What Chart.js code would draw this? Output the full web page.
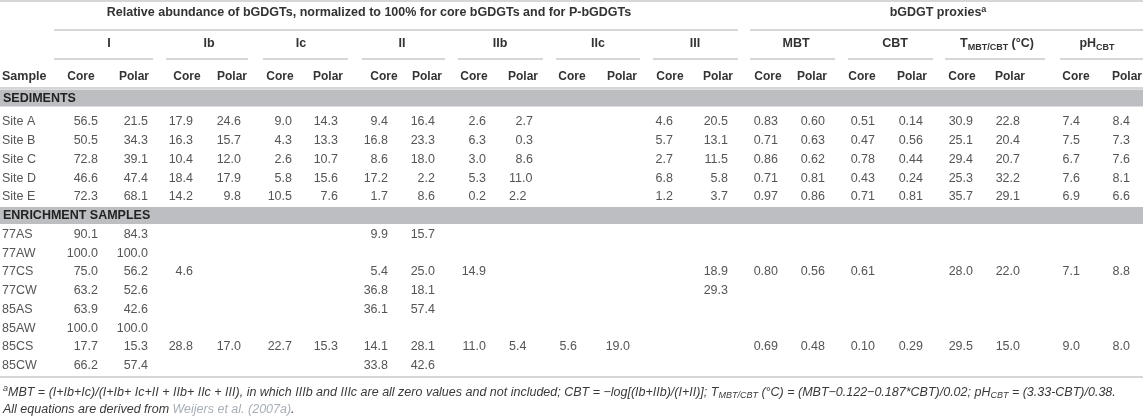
<!DOCTYPE html>
<html>
<head>
<meta charset="utf-8">
<script src="https://cdn.jsdelivr.net/npm/chart.js@4"></script>
<style>
  html, body { margin: 0; padding: 0; background: #fff; }
  #wrap { width: 1143px; height: 419px; position: relative; }
</style>
</head>
<body>
<div id="wrap"><canvas id="tableChart"></canvas></div>
<script>
// ---- table data ----
var sedimentSamples = ['Site A', 'Site B', 'Site C', 'Site D', 'Site E'];
var enrichmentSamples = ['77AS', '77AW', '77CS', '77CW', '85AS', '85AW', '85CS', '85CW'];

var groupLabels = ['I', 'Ib', 'Ic', 'II', 'IIb', 'IIc', 'III', 'MBT', 'CBT', 'TMBT', 'pH'];
var subLabels = ['Core', 'Polar'];

// null = empty cell; order = sediments then enrichment samples
var iCore    = [56.5, 50.5, 72.8, 46.6, 72.3, 90.1, 100.0, 75.0, 63.2, 63.9, 100.0, 17.7, 66.2];
var iPolar   = [21.5, 34.3, 39.1, 47.4, 68.1, 84.3, 100.0, 56.2, 52.6, 42.6, 100.0, 15.3, 57.4];
var ibCore   = [17.9, 16.3, 10.4, 18.4, 14.2, null, null, 4.6, null, null, null, 28.8, null];
var ibPolar  = [24.6, 15.7, 12.0, 17.9, 9.8, null, null, null, null, null, null, 17.0, null];
var icCore   = [9.0, 4.3, 2.6, 5.8, 10.5, null, null, null, null, null, null, 22.7, null];
var icPolar  = [14.3, 13.3, 10.7, 15.6, 7.6, null, null, null, null, null, null, 15.3, null];
var iiCore   = [9.4, 16.8, 8.6, 17.2, 1.7, 9.9, null, 5.4, 36.8, 36.1, null, 14.1, 33.8];
var iiPolar  = [16.4, 23.3, 18.0, 2.2, 8.6, 15.7, null, 25.0, 18.1, 57.4, null, 28.1, 42.6];
var iibCore  = [2.6, 6.3, 3.0, 5.3, 0.2, null, null, 14.9, null, null, null, 11.0, null];
var iibPolar = [2.7, 0.3, 8.6, 11.0, 2.2, null, null, null, null, null, null, 5.4, null];
var iicCore  = [null, null, null, null, null, null, null, null, null, null, null, 5.6, null];
var iicPolar = [null, null, null, null, null, null, null, null, null, null, null, 19.0, null];
var iiiCore  = [4.6, 5.7, 2.7, 6.8, 1.2, null, null, null, null, null, null, null, null];
var iiiPolar = [20.5, 13.1, 11.5, 5.8, 3.7, null, null, 18.9, 29.3, null, null, null, null];
var mbtCore  = [0.83, 0.71, 0.86, 0.71, 0.97, null, null, 0.80, null, null, null, 0.69, null];
var mbtPolar = [0.60, 0.63, 0.62, 0.81, 0.86, null, null, 0.56, null, null, null, 0.48, null];
var cbtCore  = [0.51, 0.47, 0.78, 0.43, 0.71, null, null, 0.61, null, null, null, 0.10, null];
var cbtPolar = [0.14, 0.56, 0.44, 0.24, 0.81, null, null, null, null, null, null, 0.29, null];
var tCore    = [30.9, 25.1, 29.4, 25.3, 35.7, null, null, 28.0, null, null, null, 29.5, null];
var tPolar   = [22.8, 20.4, 20.7, 32.2, 29.1, null, null, 22.0, null, null, null, 15.0, null];
var phCore   = [7.4, 7.5, 6.7, 7.6, 6.9, null, null, 7.1, null, null, null, 9.0, null];
var phPolar  = [8.4, 7.3, 7.6, 8.1, 6.6, null, null, 8.8, null, null, null, 8.0, null];

var valueColumns = [iCore, iPolar, ibCore, ibPolar, icCore, icPolar, iiCore, iiPolar,
  iibCore, iibPolar, iicCore, iicPolar, iiiCore, iiiPolar, mbtCore, mbtPolar,
  cbtCore, cbtPolar, tCore, tPolar, phCore, phPolar];
var decimals = [1, 1, 1, 1, 1, 1, 1, 1, 1, 1, 1, 1, 1, 1, 2, 2, 2, 2, 1, 1, 1, 1];

// ---- layout (table units = pixels of the reference) ----
var colRight = [98, 148, 193, 241, 292, 338, 388, 435, 486, 533, 577, 630, 673, 728,
  778, 825, 875, 923, 973, 1020, 1080, 1130];
var subCenter = [81, 134, 187, 232, 280, 328, 384, 427, 474, 523, 572, 622, 670, 718,
  768, 812, 862, 912, 962, 1010, 1076, 1127];
var groupCenter = [109, 209, 301, 402, 500, 598, 695, 796, 895, 997, 1097];
var groupLines = [[54, 153], [166, 248], [263, 348], [362, 445], [458, 543], [556, 640],
  [653, 738], [750, 835], [848, 933], [945, 1045], [1060, 1143]];
var leftAligned = { '9:3': 509, '9:4': 509, '9:11': 509 };
var sedRowY0 = 122, enrRowY0 = 234.5, rowStep = 18.75;

var FONT = '"Liberation Sans", Arial, Helvetica, sans-serif';
var TEXT = '#555', HEAD = '#333', RULE = '#c9c9c9', BAND = '#bdbec1';

function rowY(r) {
  return r < sedimentSamples.length ? sedRowY0 + r * rowStep
    : enrRowY0 + (r - sedimentSamples.length) * rowStep;
}

// cell points: one point per filled cell, placed through the chart scales
var cells = [];
var allSamples = sedimentSamples.concat(enrichmentSamples);
allSamples.forEach(function (name, r) {
  cells.push({ x: 2, y: rowY(r), text: name, align: 'left' });
});
valueColumns.forEach(function (col, c) {
  col.forEach(function (v, r) {
    if (v === null) return;
    var left = leftAligned[c + ':' + r];
    cells.push({
      x: left !== undefined ? left : colRight[c],
      y: rowY(r),
      text: v.toFixed(decimals[c]),
      align: left !== undefined ? 'left' : 'right'
    });
  });
});

// draws text made of parts (sub / sup / colour)
function drawRich(ctx, parts, x, y, align, size, weight, style, color) {
  function font(p) {
    var s = (p.sub || p.sup) ? Math.round(size * 0.72) : size;
    return (style || '') + ' ' + (weight || 'normal') + ' ' + s + 'px ' + FONT;
  }
  var w = 0;
  parts.forEach(function (p) { ctx.font = font(p); w += ctx.measureText(p.t).width; });
  var cx = align === 'center' ? x - w / 2 : (align === 'right' ? x - w : x);
  ctx.textAlign = 'left';
  ctx.textBaseline = 'middle';
  parts.forEach(function (p) {
    ctx.font = font(p);
    ctx.fillStyle = p.color || color;
    var dy = p.sub ? size * 0.25 : (p.sup ? -size * 0.3 : 0);
    ctx.fillText(p.t, cx, y + dy);
    cx += ctx.measureText(p.t).width;
  });
}

var tablePlugin = {
  id: 'tablePlugin',
  beforeDatasetsDraw: function (chart) {
    var ctx = chart.ctx, xs = chart.scales.x, ys = chart.scales.y;
    var X = function (v) { return xs.getPixelForValue(v); };
    var Y = function (v) { return ys.getPixelForValue(v); };
    ctx.save();
    // grey section bands
    ctx.fillStyle = BAND;
    ctx.fillRect(X(0), Y(89.5), X(1143) - X(0), Y(106.5) - Y(89.5));
    ctx.fillRect(X(0), Y(207), X(1143) - X(0), Y(224) - Y(207));
    // rules
    ctx.strokeStyle = RULE;
    ctx.lineWidth = 1.5;
    var hline = function (x0, x1, y) {
      ctx.beginPath(); ctx.moveTo(X(x0), Y(y)); ctx.lineTo(X(x1), Y(y)); ctx.stroke();
    };
    hline(0, 1143, 1);
    hline(54, 738, 30);
    hline(750, 1143, 30);
    groupLines.forEach(function (g) { hline(g[0], g[1], 59); });
    hline(0, 1143, 88);
    hline(0, 1143, 377);

    // header texts
    drawRich(ctx, [{ t: 'Relative abundance of bGDGTs, normalized to 100% for core bGDGTs and for P-bGDGTs' }],
      X(369), Y(13), 'center', 12.5, 'bold', '', HEAD);
    drawRich(ctx, [{ t: 'bGDGT proxies' }, { t: 'a', sup: true }], X(938), Y(13), 'center', 12.5, 'bold', '', HEAD);
    groupLabels.forEach(function (g, i) {
      var parts = [{ t: g }];
      if (g === 'TMBT') parts = [{ t: 'T' }, { t: 'MBT/CBT', sub: true }, { t: ' (°C)' }];
      if (g === 'pH') parts = [{ t: 'pH' }, { t: 'CBT', sub: true }];
      drawRich(ctx, parts, X(groupCenter[i]), Y(44), 'center', 12.5, 'bold', '', HEAD);
    });
    drawRich(ctx, [{ t: 'Sample' }], X(2), Y(77), 'left', 12.5, 'bold', '', HEAD);
    subCenter.forEach(function (cx, i) {
      drawRich(ctx, [{ t: subLabels[i % 2] }], X(cx), Y(77), 'center', 12, 'bold', '', HEAD);
    });
    drawRich(ctx, [{ t: 'SEDIMENTS' }], X(3), Y(98.5), 'left', 12.5, 'bold', '', '#222');
    drawRich(ctx, [{ t: 'ENRICHMENT SAMPLES' }], X(3), Y(215.5), 'left', 12.5, 'bold', '', '#222');

    // footnote
    drawRich(ctx, [
      { t: 'a', sup: true },
      { t: 'MBT = (I+Ib+Ic)/(I+Ib+ Ic+II + IIb+ IIc + III), in which IIIb and IIIc are all zero values and not included; CBT = \u2212log[(Ib+IIb)/(I+II)]; T' },
      { t: 'MBT/CBT', sub: true },
      { t: ' (°C) = (MBT\u22120.122\u22120.187*CBT)/0.02; pH' },
      { t: 'CBT', sub: true },
      { t: ' = (3.33-CBT)/0.38.' }
    ], X(3), Y(392.5), 'left', 12.5, 'normal', 'italic', '#3a3a3a');
    drawRich(ctx, [
      { t: 'All equations are derived from ' },
      { t: 'Weijers et al. (2007a)', color: '#a7aeb6' },
      { t: '.' }
    ], X(3), Y(410), 'left', 12.5, 'normal', 'italic', '#3a3a3a');
    ctx.restore();
  },
  afterDatasetsDraw: function (chart) {
    var ctx = chart.ctx;
    var meta = chart.getDatasetMeta(0);
    ctx.save();
    ctx.font = '12.5px ' + FONT;
    ctx.fillStyle = TEXT;
    ctx.textBaseline = 'middle';
    meta.data.forEach(function (pt, i) {
      var cell = cells[i];
      ctx.textAlign = cell.align;
      ctx.fillText(cell.text, pt.x, pt.y);
    });
    ctx.restore();
  }
};

new Chart(document.getElementById('tableChart'), {
  type: 'scatter',
  data: {
    datasets: [{
      data: cells.map(function (c) { return { x: c.x, y: c.y }; }),
      pointRadius: 0,
      pointHoverRadius: 0
    }]
  },
  options: {
    responsive: true,
    maintainAspectRatio: false,
    animation: false,
    events: [],
    layout: { padding: 0 },
    plugins: { legend: { display: false }, tooltip: { enabled: false } },
    scales: {
      x: { type: 'linear', min: 0, max: 1143, display: false },
      y: { type: 'linear', min: 0, max: 419, reverse: true, display: false }
    }
  },
  plugins: [tablePlugin]
});
</script>
</body>
</html>
